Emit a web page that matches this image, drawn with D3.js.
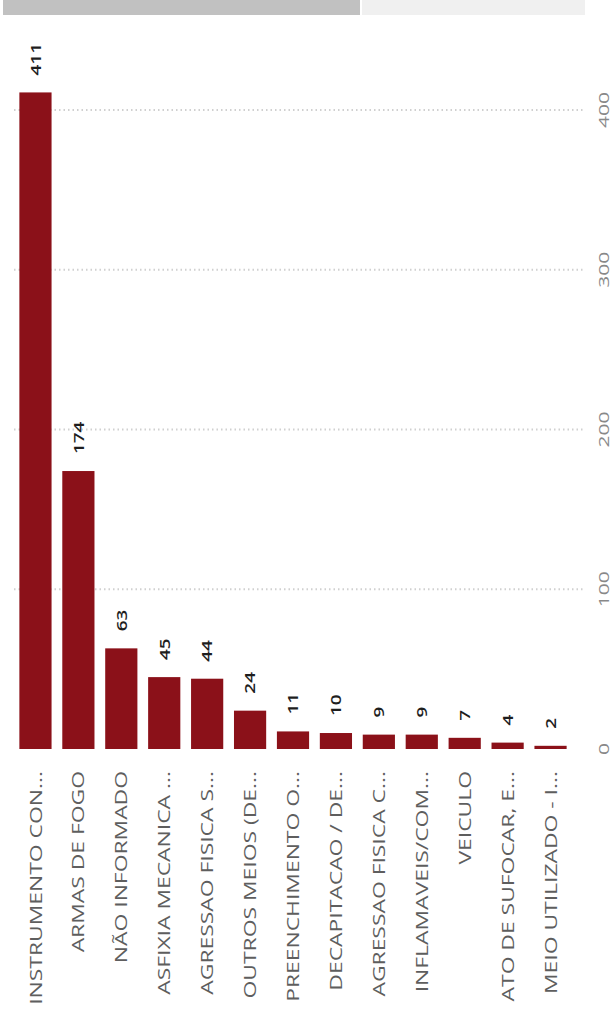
<!DOCTYPE html>
<html>
<head>
<meta charset="utf-8">
<script src="https://cdn.jsdelivr.net/npm/d3@7"></script>
<style>
  html, body { margin: 0; padding: 0; background: #ffffff; }
  svg { display: block; }
  text { font-family: "Open Sans", "Noto Sans", sans-serif; }
</style>
</head>
<body>
<div id="chart"></div>
<script>
// ---- data ----
const categories = [
  "INSTRUMENTO CON...",
  "ARMAS DE FOGO",
  "NÃO INFORMADO",
  "ASFIXIA MECANICA ...",
  "AGRESSAO FISICA S...",
  "OUTROS MEIOS (DE...",
  "PREENCHIMENTO O...",
  "DECAPITACAO / DE...",
  "AGRESSAO FISICA C...",
  "INFLAMAVEIS/COM...",
  "VEICULO",
  "ATO DE SUFOCAR, E...",
  "MEIO UTILIZADO - I..."
];
const values = [411, 174, 63, 45, 44, 24, 11, 10, 9, 9, 7, 4, 2];
const tickValues = [0, 100, 200, 300, 400];

// ---- layout ----
const W = 615, H = 1018;
const barColor = "#8B1119";

const svg = d3.select("#chart").append("svg")
  .attr("width", W).attr("height", H);

// scrollbar strip at top
svg.append("rect").attr("x", 3).attr("y", 0).attr("width", 357).attr("height", 15)
  .attr("fill", "#c1c1c1");
svg.append("rect").attr("x", 362).attr("y", 0).attr("width", 223).attr("height", 15)
  .attr("fill", "#f0f0f0");

const x = d3.scaleBand().domain(categories).range([14, 572])
  .paddingInner(0.25).paddingOuter(0.125);
const y = d3.scaleLinear().domain([0, 400]).range([749, 110]);

// gridlines
svg.append("g").selectAll("line")
  .data(tickValues.filter(t => t > 0))
  .join("line")
  .attr("x1", 14).attr("x2", 585)
  .attr("y1", d => y(d)).attr("y2", d => y(d))
  .attr("stroke", "#d0d0d0").attr("stroke-width", 2)
  .attr("stroke-dasharray", "1.5,3");

// tick labels (right side, rotated)
svg.append("g").selectAll("text")
  .data(tickValues)
  .join("text")
  .attr("transform", d => `translate(604,${y(d)}) rotate(-90) scale(1.5,1)`)
  .attr("text-anchor", "middle")
  .attr("dominant-baseline", "central")
  .attr("font-size", 14)
  .attr("fill", "#888888")
  .text(d => d);

// bars
const data = categories.map((c, i) => ({ c, v: values[i] }));
svg.append("g").selectAll("rect")
  .data(data)
  .join("rect")
  .attr("x", d => x(d.c))
  .attr("width", x.bandwidth())
  .attr("y", d => y(d.v))
  .attr("height", d => y(0) - y(d.v))
  .attr("fill", barColor);

// value labels
svg.append("g").selectAll("text")
  .data(data)
  .join("text")
  .attr("transform", d => `translate(${x(d.c) + x.bandwidth() / 2},${y(d.v) - 17}) rotate(-90) scale(1.4,1)`)
  .attr("text-anchor", "start")
  .attr("dominant-baseline", "central")
  .attr("font-size", 13.5)
  .attr("font-weight", 600)
  .attr("fill", "#1e1e1e")
  .text(d => d.v);

// category labels
svg.append("g").selectAll("text")
  .data(data)
  .join("text")
  .attr("transform", d => `translate(${x(d.c) + x.bandwidth() / 2},771) rotate(-90) scale(1.43,1)`)
  .attr("text-anchor", "end")
  .attr("dominant-baseline", "central")
  .attr("font-size", 16)
  .attr("fill", "#5e5e5e")
  .text(d => d.c);
</script>
</body>
</html>
